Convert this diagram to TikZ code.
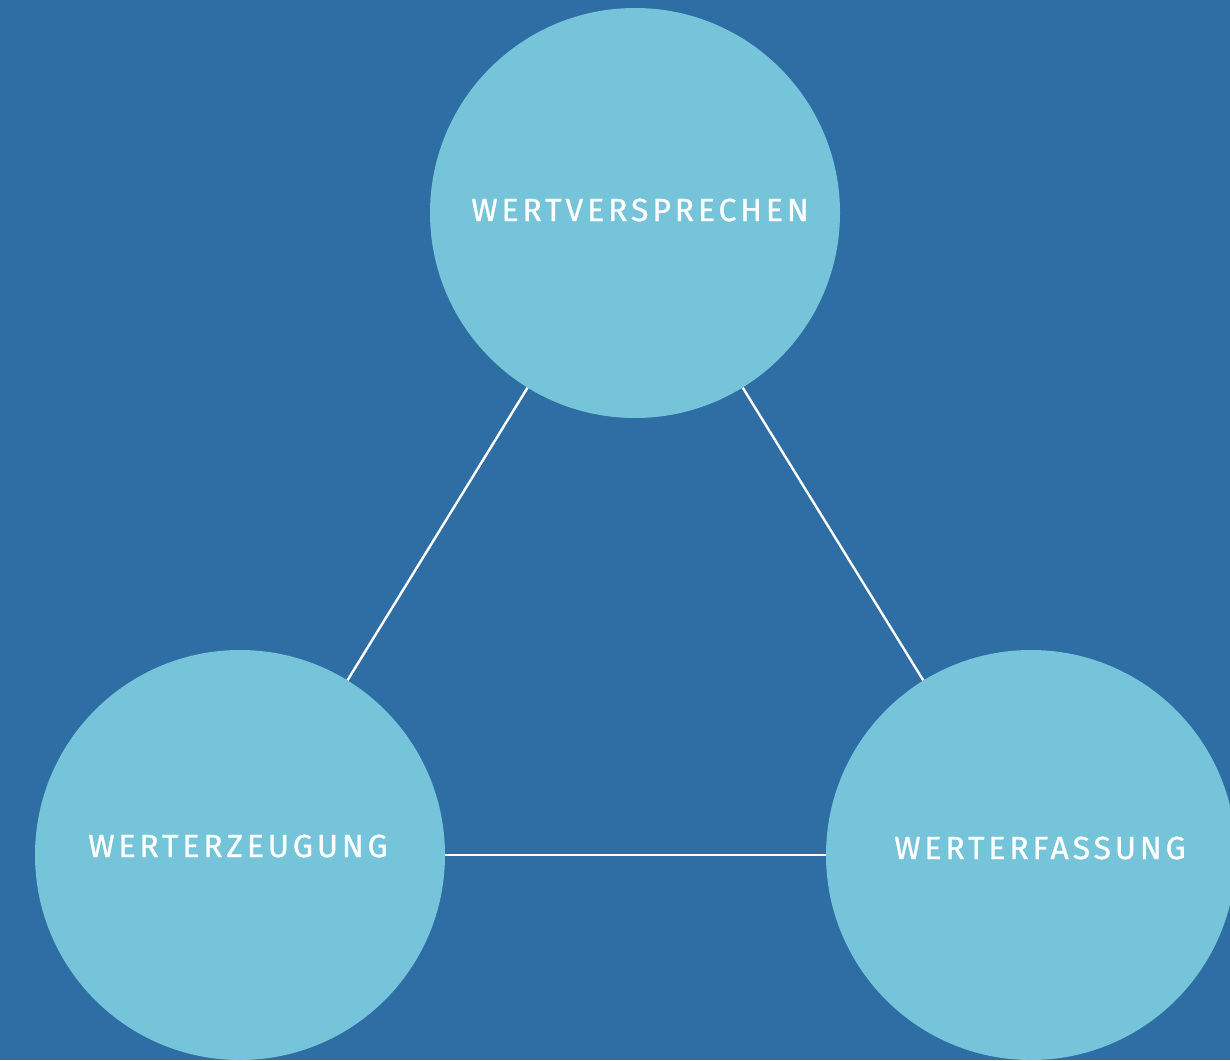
\documentclass[tikz,border=0pt]{standalone}
\usepackage{fontspec}
\setmainfont{Fira Sans}[LetterSpace=12]
\definecolor{bgblue}{HTML}{2F6EA5}
\definecolor{circblue}{HTML}{75C4DA}
\begin{document}
\begin{tikzpicture}[x=1pt,y=-1pt,
  blob/.style={circle,fill=circblue,minimum size=410pt,inner sep=0pt},
  lbl/.style={text=white,font=\fontsize{32}{38}\selectfont\addfontfeature{FakeBold=0.8},inner sep=0pt},
  link/.style={draw=white,line width=2.4pt}]
\fill[bgblue] (0,0) rectangle (1230,1060);
\useasboundingbox (0,0) rectangle (1230,1060);
\begin{scope}
\clip (0,0) rectangle (1230,1060);
\node[blob] (top) at (635,213) {};
\node[blob] (left) at (240,855) {};
\node[blob] (right) at (1031,855) {};
\end{scope}
\node[lbl] (ttop) at (640,210) {WERTVERSPRECHEN};
\node[lbl] (tleft) at (238,846) {WERTERZEUGUNG};
\node[lbl] (tright) at (1040,848) {WERTERFASSUNG};
\draw[link] (top) -- (left);
\draw[link] (top) -- (right);
\draw[link] (left) -- (right);
\end{tikzpicture}
\end{document}
